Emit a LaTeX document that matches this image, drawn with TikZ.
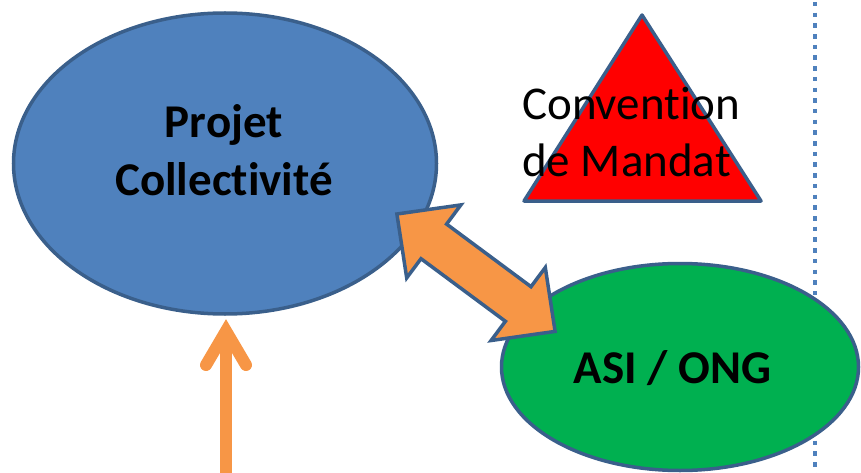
\documentclass[tikz,border=0pt]{standalone}
\usepackage{fontspec}
\setmainfont{Carlito}[Ligatures={NoCommon}]
\usetikzlibrary{shapes.geometric}
\definecolor{bluefill}{HTML}{4F81BD}
\definecolor{edgeblue}{HTML}{3A5F8B}
\definecolor{greenfill}{HTML}{00B050}
\definecolor{orangefill}{HTML}{F79646}
\definecolor{redfill}{HTML}{FF0000}
\tikzset{
  bubble/.style={ellipse, draw=edgeblue, line width=3.5pt, inner sep=0pt},
  bigtext/.style={font=\fontsize{47}{57}\selectfont, inner sep=0pt, text=black},
  boldtext/.style={bigtext, font=\fontsize{47}{57}\selectfont\bfseries},
  orangearrow/.style={draw=orangefill, line width=12pt, line cap=round, line join=miter},
}
\begin{document}
\begin{tikzpicture}[x=1pt,y=-1pt]
\useasboundingbox (0,0) rectangle (861,473);
% blue ellipse
\node[bubble, fill=bluefill, minimum width=423pt, minimum height=301pt] (proj) at (225,163.5) {};
% dotted separator
\coordinate (dtop) at (815,0);
\coordinate (dbot) at (815,473);
\draw[bluefill, line width=4.5pt, dash pattern=on 4.5pt off 6.2pt, dash phase=-2pt] (dtop) -- (dbot);
% green ellipse
\node[bubble, fill=greenfill, minimum width=357pt, minimum height=207pt] (asi) at (680,367) {};
% triangle
\coordinate (ta) at (642,15);
\coordinate (tl) at (524,201);
\coordinate (tr) at (761,201);
\draw[draw=edgeblue, fill=redfill, line width=3.5pt, line join=round] (ta) -- (tr) -- (tl) -- cycle;
% texts
\node[boldtext, anchor=base] (t1) at (224,138) {Projet};
\node[boldtext, anchor=base] (t2) at (224,195) {Collectivité};
\node[bigtext, anchor=base west] (c1) at (522,120) {Convention};
\node[bigtext, anchor=base west] (c2) at (522,177) {de Mandat};
\node[boldtext, anchor=base] (t3) at (672.5,383) {ASI / ONG};
% double arrow
\draw[draw=edgeblue, fill=orangefill, line width=3.5pt, line join=miter]
  (396.9,214.0) -- (460.9,204.9) -- (446.6,224.1) -- (531.0,286.7) -- (545.3,267.5)
  -- (555.1,331.4) -- (491.1,340.5) -- (505.4,321.3) -- (421.0,258.7) -- (406.7,277.9) -- cycle;
% vertical arrow
\coordinate (vtip) at (226,331);
\coordinate (vbot) at (226,485);
\coordinate (vwl) at (206,365);
\coordinate (vwr) at (246,365);
\draw[orangearrow, line cap=butt] (vbot) -- (vtip);
\draw[orangearrow] (vwl) -- (vtip) -- (vwr);
\end{tikzpicture}
\end{document}
